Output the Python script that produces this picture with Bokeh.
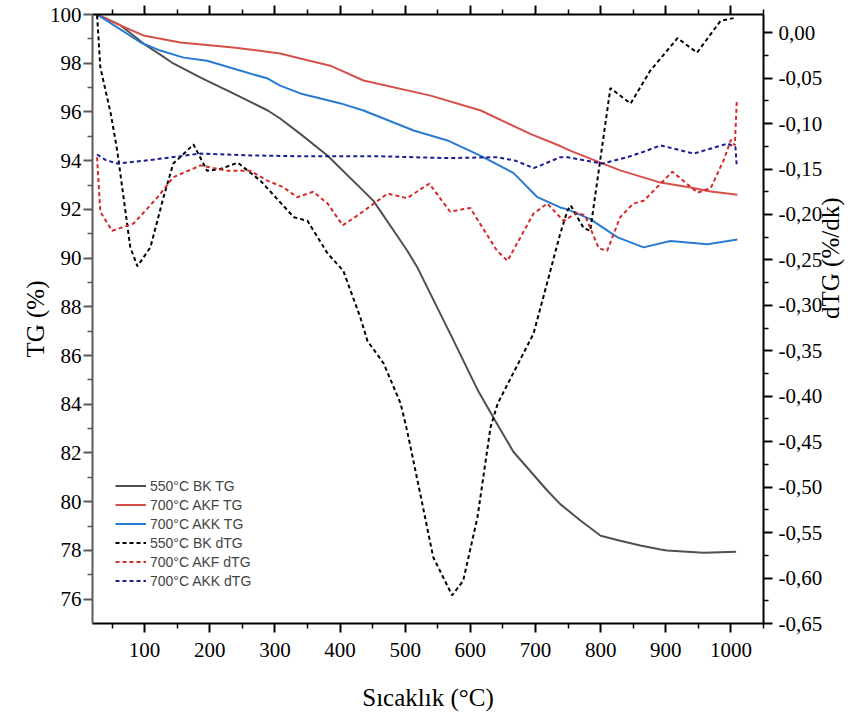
from math import pi
from bokeh.plotting import figure
from bokeh.models import (Range1d, LinearAxis, FixedTicker, CustomJSTickFormatter,
                          Legend, LegendItem)
from bokeh.embed import file_html
from bokeh.resources import INLINE

# ---------------- data ----------------
bk_tg_t = [25, 40, 63, 80, 100, 124, 144, 186, 236, 289, 308, 339, 381, 451, 503, 519,
           569, 611, 642, 666, 718, 738, 769, 800, 830, 861, 892, 902, 958, 1008]
bk_tg_v = [100, 99.85, 99.55, 99.2, 98.77, 98.35, 97.99, 97.41, 96.76, 96.06, 95.73, 95.1,
           94.2, 92.36, 90.31, 89.6, 86.9, 84.6, 83.15, 82.05, 80.46, 79.9, 79.23, 78.6,
           78.4, 78.2, 78.04, 78.0, 77.9, 77.95]

akf_tg_t = [27, 63, 98, 155, 236, 308, 339, 385, 436, 539, 616, 692, 738, 754, 830, 892,
            938, 969, 1010]
akf_tg_v = [100, 99.55, 99.14, 98.85, 98.65, 98.4, 98.19, 97.9, 97.29, 96.67, 96.06, 95.1,
            94.6, 94.4, 93.6, 93.1, 92.9, 92.73, 92.6]

akk_tg_t = [27, 58, 94, 124, 160, 196, 236, 289, 308, 339, 401, 436, 513, 565, 616, 666,
            703, 738, 749, 784, 826, 866, 907, 964, 1010]
akk_tg_v = [100, 99.47, 98.85, 98.52, 98.23, 98.1, 97.78, 97.37, 97.08, 96.76, 96.35, 96.06,
            95.24, 94.83, 94.2, 93.5, 92.5, 92.08, 92.0, 91.6, 90.85, 90.44, 90.7, 90.57, 90.76]

bk_dtg_t = [27, 32, 48, 58, 78, 89, 109, 129, 144, 175, 196, 216, 243, 278, 329, 350, 381,
            405, 431, 442, 467, 493, 503, 523, 543, 572, 589, 611, 631, 642, 697, 712, 738,
            749, 754, 774, 784, 800, 815, 846, 876, 918, 948, 984, 1004]
bk_dtg_v = [0.019, -0.038, -0.089, -0.13, -0.236, -0.257, -0.236, -0.181, -0.144, -0.123,
            -0.152, -0.150, -0.143, -0.163, -0.203, -0.207, -0.243, -0.262, -0.313, -0.339,
            -0.364, -0.408, -0.438, -0.507, -0.577, -0.619, -0.603, -0.533, -0.434, -0.408,
            -0.331, -0.291, -0.221, -0.196, -0.19, -0.215, -0.218, -0.137, -0.061, -0.078,
            -0.042, -0.006, -0.022, 0.013, 0.016]

akf_dtg_t = [27, 32, 50, 83, 120, 144, 186, 227, 262, 289, 313, 334, 359, 381, 404, 431, 473,
             503, 537, 569, 590, 600, 641, 657, 697, 718, 743, 764, 776, 797, 810, 830, 850,
             866, 892, 910, 927, 949, 969, 989, 1000, 1006, 1009]
akf_dtg_v = [-0.137, -0.197, -0.218, -0.21, -0.181, -0.159, -0.146, -0.152, -0.152, -0.163,
             -0.17, -0.181, -0.175, -0.188, -0.212, -0.199, -0.177, -0.182, -0.166, -0.197,
             -0.194, -0.193, -0.24, -0.251, -0.199, -0.188, -0.207, -0.198, -0.201, -0.237,
             -0.24, -0.203, -0.188, -0.185, -0.166, -0.153, -0.163, -0.176, -0.171, -0.14,
             -0.118, -0.124, -0.075]

akk_dtg_t = [27, 40, 58, 109, 186, 262, 339, 462, 565, 642, 670, 697, 708, 738, 749, 803,
             841, 866, 892, 943, 995, 1007, 1009]
akk_dtg_v = [-0.134, -0.14, -0.144, -0.14, -0.133, -0.135, -0.136, -0.136, -0.138, -0.137,
             -0.141, -0.149, -0.146, -0.137, -0.137, -0.144, -0.137, -0.131, -0.124, -0.133,
             -0.122, -0.126, -0.148]

series_names = ["550°C BK TG", "700°C AKF TG", "700°C AKK TG",
                "550°C BK dTG", "700°C AKF dTG", "700°C AKK dTG"]

x_major = [100, 200, 300, 400, 500, 600, 700, 800, 900, 1000]
x_minor = [50, 150, 250, 350, 450, 550, 650, 750, 850, 950, 1050]
left_major = [76, 78, 80, 82, 84, 86, 88, 90, 92, 94, 96, 98, 100]
left_minor = [77, 79, 81, 83, 85, 87, 89, 91, 93, 95, 97, 99]
right_major = [0.0, -0.05, -0.10, -0.15, -0.20, -0.25, -0.30, -0.35, -0.40, -0.45,
               -0.50, -0.55, -0.60, -0.65]
right_labels = ["0,00", "-0,05", "-0,10", "-0,15", "-0,20", "-0,25", "-0,30", "-0,35",
                "-0,40", "-0,45", "-0,50", "-0,55", "-0,60", "-0,65"]
right_minor = [-0.025, -0.075, -0.125, -0.175, -0.225, -0.275, -0.325, -0.375, -0.425,
               -0.475, -0.525, -0.575, -0.625]

# ---------------- figure ----------------
SERIF = "Liberation Serif"
p = figure(width=860, height=718, output_backend="svg", toolbar_location=None,
           x_range=Range1d(20, 1050), y_range=Range1d(75, 100),
           min_border_left=92, min_border_right=97, min_border_top=14, min_border_bottom=95)
p.extra_y_ranges = {"dtg": Range1d(-0.65, 0.02)}
p.grid.visible = False
p.outline_line_color = None
p.background_fill_color = "white"
p.border_fill_color = "white"

def style_axis(ax, color="black"):
    ax.axis_line_color = color
    ax.axis_line_width = 2
    ax.major_tick_line_color = color
    ax.minor_tick_line_color = color
    ax.major_tick_line_width = 2
    ax.minor_tick_line_width = 1.5
    ax.major_tick_in = 0
    ax.major_tick_out = 9
    ax.minor_tick_in = 0
    ax.minor_tick_out = 5
    ax.major_label_text_font = SERIF
    ax.major_label_text_font_size = "21px"
    ax.major_label_text_color = "black"
    ax.axis_label_text_font = SERIF
    ax.axis_label_text_font_size = "25px"
    ax.axis_label_text_font_style = "normal"
    ax.axis_label_text_color = "black"

xb = p.xaxis[0]
xb.ticker = FixedTicker(ticks=x_major, minor_ticks=x_minor)
style_axis(xb)
xb.major_label_standoff = 10
xb.axis_label = "Sıcaklık (°C)"
xb.axis_label_standoff = 24

yl = p.yaxis[0]
yl.ticker = FixedTicker(ticks=left_major, minor_ticks=left_minor)
style_axis(yl, "#5a5a5a")
yl.major_label_standoff = 2
yl.axis_label = "TG (%)"
yl.axis_label_standoff = -2

xt = LinearAxis(ticker=FixedTicker(ticks=x_major, minor_ticks=x_minor))
style_axis(xt)
xt.formatter = CustomJSTickFormatter(code="return '';")
xt.major_label_standoff = 0
p.add_layout(xt, "above")

yr = LinearAxis(y_range_name="dtg",
                ticker=FixedTicker(ticks=right_major, minor_ticks=right_minor))
style_axis(yr)
yr.major_label_standoff = 6
yr.formatter = CustomJSTickFormatter(args=dict(tvals=right_major, tlabs=right_labels), code="""
let best = 0, d = 1e9;
for (let i = 0; i < tvals.length; i++) {
  const e = Math.abs(tvals[i] - tick);
  if (e < d) { d = e; best = i; }
}
return tlabs[best];
""")
yr.axis_label = "dTG (%/dk)"
yr.axis_label_standoff = 5
try:
    yr.axis_label_orientation = pi / 2
    yr.axis_label_text_align = "center"
    yr.axis_label_text_baseline = "middle"
except Exception:
    pass
p.add_layout(yr, "right")

# ---------------- lines ----------------
c_bk, c_akf, c_akk = "#505050", "#d6504a", "#2a7ad2"
c_bkd, c_akfd, c_akkd = "#000000", "#d42a2a", "#1c1c96"

r1 = p.line(bk_tg_t, bk_tg_v, line_color=c_bk, line_width=2)
r2 = p.line(akf_tg_t, akf_tg_v, line_color=c_akf, line_width=2)
r3 = p.line(akk_tg_t, akk_tg_v, line_color=c_akk, line_width=2)
r4 = p.line(bk_dtg_t, bk_dtg_v, line_color=c_bkd, line_width=2, line_dash="4 3",
            y_range_name="dtg")
r5 = p.line(akf_dtg_t, akf_dtg_v, line_color=c_akfd, line_width=2, line_dash="4 3",
            y_range_name="dtg")
r6 = p.line(akk_dtg_t, akk_dtg_v, line_color=c_akkd, line_width=2, line_dash="4 3",
            y_range_name="dtg")

legend = Legend(items=[LegendItem(label=n, renderers=[r]) for n, r in
                       zip(series_names, [r1, r2, r3, r4, r5, r6])],
                location=(23, 33), padding=0, margin=0, spacing=0,
                glyph_width=31, glyph_height=19, label_height=19, label_standoff=4,
                label_text_font="Liberation Sans", label_text_font_size="14px",
                border_line_color=None, background_fill_alpha=0)
p.add_layout(legend, "center")

open("out.html", "w").write(file_html(p, INLINE))
